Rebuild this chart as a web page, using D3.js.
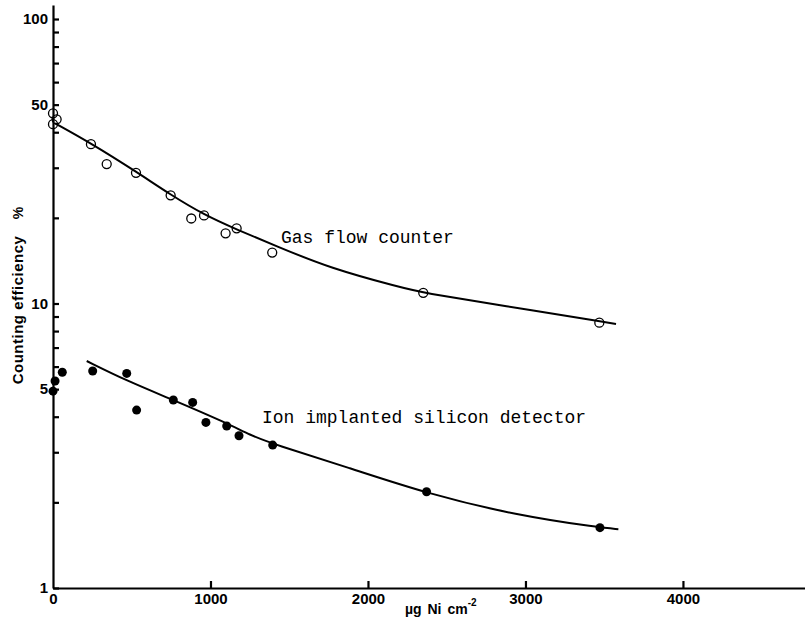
<!DOCTYPE html>
<html>
<head>
<meta charset="utf-8">
<script src="https://cdn.jsdelivr.net/npm/d3@7"></script>
<style>
  body { margin: 0; background: #fff; }
  .tick text, .lbl { font-family: "Liberation Sans", Arial, sans-serif; font-weight: bold; fill: #000; }
  .note { font-family: "Liberation Mono", "Courier New", monospace; font-size: 18px; fill: #000; }
</style>
</head>
<body>
<svg id="chart" width="805" height="627"></svg>
<script>
// gas flow counter, open circles
const gasX = [0, 0, 23, 241, 341, 527, 747, 878, 959, 1096, 1166, 1392, 2351, 3469];
const gasY = [46.6, 42.7, 44.4, 36.3, 30.9, 28.8, 24.0, 19.9, 20.4, 17.65, 18.37, 15.1, 10.9, 8.56];
// fitted curve for gas flow counter
const gasFitX = [13, 241, 527, 747, 959, 1166, 1420, 1759, 2205, 2349, 2838, 3575];
const gasFitY = [43.0, 36.6, 29.1, 24.1, 20.5, 18.2, 15.9, 13.3, 11.4, 10.9, 9.88, 8.47];

// ion implanted silicon detector, filled dots
const siX = [0, 13, 59, 252, 468, 531, 764, 887, 971, 1103, 1181, 1395, 2372, 3473];
const siY = [4.92, 5.34, 5.73, 5.79, 5.68, 4.22, 4.58, 4.49, 3.82, 3.71, 3.43, 3.18, 2.18, 1.63];
const siFitX = [214, 468, 764, 1103, 1251, 1395, 1886, 2372, 2944, 3473, 3590];
const siFitY = [6.28, 5.35, 4.58, 3.80, 3.45, 3.21, 2.64, 2.15, 1.80, 1.63, 1.61];

const yTicks = [1, 2, 3, 4, 5, 6, 7, 8, 9, 10, 20, 30, 40, 50, 60, 70, 80, 90, 100];
const yLabels = [1, 5, 10, 50, 100];
const xTicks = [0, 1000, 2000, 3000, 4000];

var svg = d3.select("#chart");

var x = d3.scaleLinear().domain([0, 4775]).range([53, 805]);
var y = d3.scaleLog().domain([1, 112]).range([588, 5]);

var xAxis = svg.append("g")
  .attr("transform", `translate(0, ${y(1)})`)
  .call(d3.axisBottom(x).tickValues(xTicks).tickSize(-7).tickSizeOuter(0).tickPadding(5)
    .tickFormat(d3.format("d")));
var yAxis = svg.append("g")
  .attr("transform", `translate(${x(0)}, 0)`)
  .call(d3.axisLeft(y).tickValues(yTicks).tickSize(-6).tickSizeOuter(0).tickPadding(5)
    .tickFormat(d => yLabels.includes(d) ? d : ""));

[xAxis, yAxis].forEach(a => {
  a.selectAll("path, line").attr("stroke", "#000").attr("stroke-width", 2.2);
  a.selectAll("text").style("font-size", "15px");
});
xAxis.selectAll(".tick").filter(d => d === 0).select("line").remove();

svg.append("text")
  .attr("class", "lbl")
  .attr("transform", "translate(23, 310) rotate(-90)")
  .attr("text-anchor", "middle")
  .style("font-size", "15px")
  .style("letter-spacing", "0.5px")
  .text("Counting efficiency");
svg.append("text")
  .attr("class", "lbl")
  .attr("transform", "translate(23, 213) rotate(-90)")
  .attr("text-anchor", "middle")
  .style("font-size", "14px")
  .text("%");

var xl = svg.append("text")
  .attr("class", "lbl")
  .attr("x", 405)
  .attr("y", 614)
  .style("font-size", "14px")
  .style("word-spacing", "2px");
xl.append("tspan").text("\u00b5g Ni cm");
xl.append("tspan").attr("dy", -8).style("font-size", "10px").text("-2");

var line = d3.line()
  .curve(d3.curveBasis)
  .x(d => x(d[0]))
  .y(d => y(d[1]));

svg.append("path")
  .datum(gasFitX.map((v, i) => [v, gasFitY[i]]))
  .attr("fill", "none")
  .attr("stroke", "#000")
  .attr("stroke-width", 2)
  .attr("d", line);

svg.append("path")
  .datum(siFitX.map((v, i) => [v, siFitY[i]]))
  .attr("fill", "none")
  .attr("stroke", "#000")
  .attr("stroke-width", 2)
  .attr("d", line);

svg.selectAll(".gas")
  .data(gasX.map((v, i) => [v, gasY[i]]))
  .enter().append("circle")
  .attr("class", "gas")
  .attr("cx", d => x(d[0]))
  .attr("cy", d => y(d[1]))
  .attr("r", 4.5)
  .attr("fill", "none")
  .attr("stroke", "#000")
  .attr("stroke-width", 1.3);

svg.selectAll(".si")
  .data(siX.map((v, i) => [v, siY[i]]))
  .enter().append("circle")
  .attr("class", "si")
  .attr("cx", d => x(d[0]))
  .attr("cy", d => y(d[1]))
  .attr("r", 4.5)
  .attr("fill", "#000");

svg.append("text")
  .attr("class", "note")
  .attr("x", 281)
  .attr("y", 243)
  .text("Gas flow counter");
svg.append("text")
  .attr("class", "note")
  .attr("x", 262)
  .attr("y", 423)
  .text("Ion implanted silicon detector");
</script>
</body>
</html>
